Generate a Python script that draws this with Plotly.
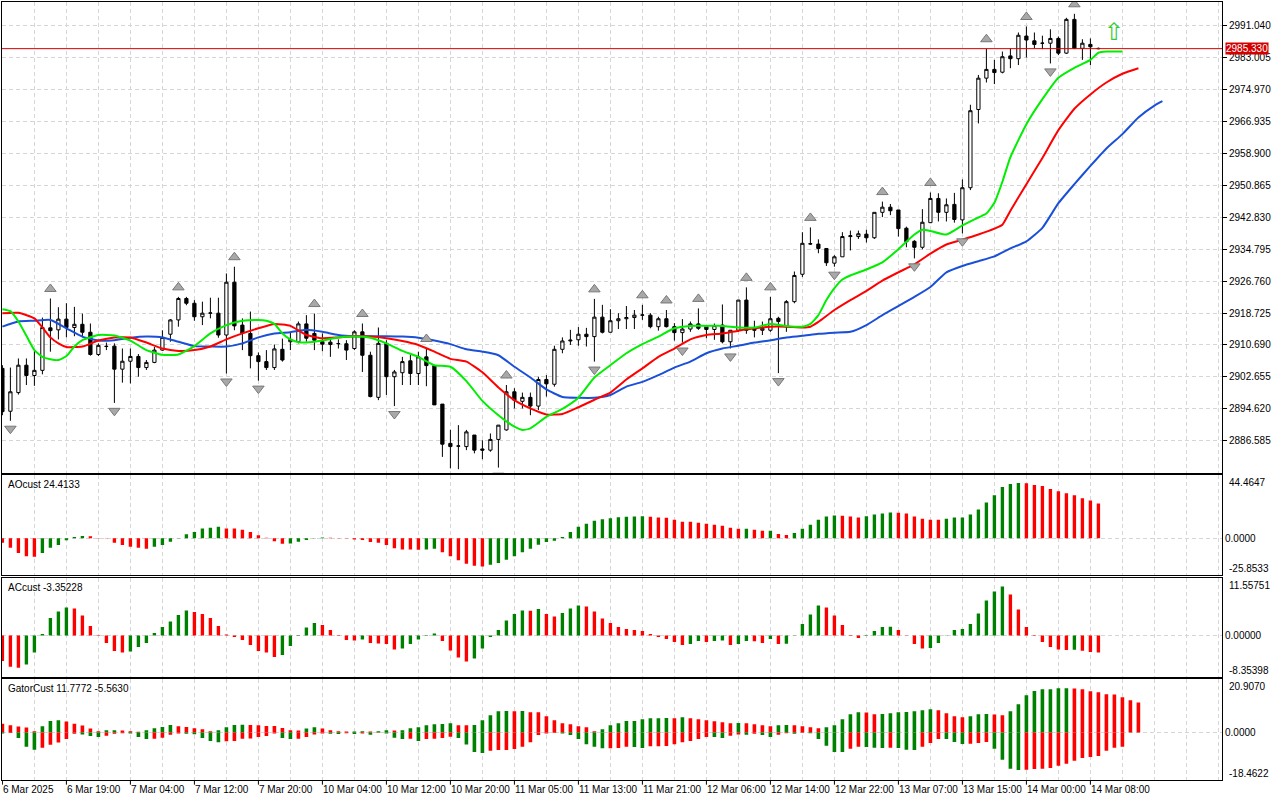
import plotly.graph_objects as go

# ---------------- data ----------------
opens = [2904.8, 2894.0, 2898.7, 2905.6, 2903.0, 2904.3, 2915.0, 2914.5, 2917.2, 2915.1,
         2915.9, 2913.9, 2908.3, 2910.3, 2910.4, 2904.6, 2906.6, 2907.8, 2905.0, 2906.3,
         2909.4, 2913.4, 2917.0, 2922.4, 2921.2, 2917.8, 2918.7, 2918.7, 2913.2, 2926.5,
         2915.7, 2913.6, 2908.0, 2906.5, 2905.0, 2909.6, 2911.5, 2911.5, 2916.0, 2913.6,
         2911.5, 2911.4, 2911.0, 2911.0, 2909.8, 2914.0, 2908.1, 2897.5, 2911.1, 2902.7,
         2903.7, 2906.7, 2903.5, 2907.7, 2905.5, 2895.8, 2885.9, 2885.2, 2885.1, 2888.0,
         2884.5, 2884.2, 2886.9, 2889.3, 2898.9, 2896.5, 2897.5, 2895.3, 2902.0, 2900.8,
         2909.6, 2911.7, 2912.0, 2913.4, 2912.8, 2917.7, 2913.9, 2916.8, 2917.3, 2917.6,
         2918.2, 2918.2, 2915.3, 2917.3, 2915.3, 2913.8, 2914.7, 2916.0, 2915.3, 2914.6,
         2915.7, 2911.5, 2914.4, 2922.0, 2914.9, 2914.4, 2914.4, 2917.4, 2915.3, 2921.6,
         2928.5, 2936.1, 2936.1, 2935.0, 2931.3, 2932.9, 2938.0, 2938.0, 2938.6, 2937.7,
         2944.1, 2945.4, 2944.7, 2940.1, 2936.8, 2935.3, 2941.5, 2947.6, 2944.1, 2946.1,
         2942.2, 2950.3, 2970.0, 2977.9, 2980.1, 2979.4, 2983.5, 2982.8, 2988.5, 2987.3,
         2986.7, 2986.7, 2987.9, 2984.2, 2992.7, 2985.4, 2986.4, 2985.4]
highs = [2905.6, 2905.0, 2907.3, 2907.3, 2909.2, 2917.6, 2922.4, 2920.2, 2921.2, 2920.3,
         2918.6, 2916.1, 2911.1, 2911.3, 2911.1, 2909.8, 2909.8, 2908.4, 2906.9, 2910.2,
         2914.4, 2917.2, 2922.8, 2922.8, 2922.0, 2921.6, 2922.6, 2922.6, 2928.7, 2930.4,
         2917.4, 2919.1, 2908.8, 2909.4, 2910.8, 2912.3, 2914.0, 2916.6, 2918.2, 2918.6,
         2913.6, 2912.1, 2912.1, 2911.9, 2914.4, 2916.1, 2909.0, 2915.1, 2911.9, 2904.4,
         2907.7, 2908.2, 2909.0, 2909.8, 2905.5, 2895.8, 2889.3, 2890.5, 2889.3, 2888.0,
         2886.7, 2888.4, 2890.5, 2900.6, 2899.8, 2898.7, 2898.7, 2902.7, 2903.1, 2910.5,
         2912.6, 2914.5, 2915.2, 2915.0, 2922.3, 2920.8, 2919.7, 2918.7, 2920.5, 2919.5,
         2920.8, 2918.7, 2917.8, 2919.5, 2916.2, 2917.2, 2916.6, 2919.9, 2915.7, 2916.1,
         2920.9, 2914.4, 2922.0, 2925.2, 2916.8, 2916.6, 2922.8, 2917.8, 2922.0, 2929.2,
         2939.1, 2940.3, 2937.3, 2935.0, 2933.3, 2939.1, 2939.5, 2939.5, 2939.7, 2944.1,
         2946.8, 2946.2, 2944.7, 2940.5, 2937.1, 2944.9, 2949.1, 2948.9, 2947.6, 2949.0,
         2952.4, 2971.2, 2978.7, 2985.3, 2982.5, 2984.6, 2985.4, 2989.4, 2990.9, 2989.4,
         2988.6, 2990.2, 2988.4, 2993.1, 2994.1, 2987.7, 2987.9, 2985.6]
lows = [2893.0, 2891.6, 2898.2, 2900.6, 2900.4, 2903.3, 2909.0, 2912.1, 2912.6, 2912.9,
        2912.6, 2908.0, 2907.9, 2909.4, 2896.1, 2901.2, 2901.0, 2902.7, 2904.4, 2906.1,
        2909.2, 2911.5, 2915.3, 2920.7, 2916.8, 2915.7, 2917.4, 2912.5, 2903.5, 2914.4,
        2909.4, 2904.8, 2901.7, 2904.4, 2904.4, 2906.5, 2909.4, 2911.1, 2911.5, 2909.4,
        2909.1, 2907.7, 2909.8, 2906.9, 2909.4, 2903.9, 2897.5, 2896.8, 2898.1, 2895.3,
        2900.6, 2900.6, 2900.6, 2900.3, 2895.6, 2882.5, 2879.6, 2879.4, 2884.2, 2883.4,
        2881.9, 2883.8, 2879.8, 2889.1, 2894.7, 2894.7, 2893.0, 2894.3, 2897.7, 2900.2,
        2908.6, 2910.7, 2910.5, 2910.3, 2906.5, 2913.6, 2913.9, 2914.7, 2914.7, 2914.7,
        2917.0, 2914.9, 2914.3, 2915.1, 2911.8, 2911.3, 2914.0, 2914.5, 2912.4, 2912.0,
        2911.1, 2909.8, 2914.0, 2913.5, 2912.6, 2913.2, 2914.0, 2903.6, 2914.0, 2921.2,
        2927.8, 2935.9, 2933.8, 2930.6, 2930.4, 2932.9, 2934.5, 2937.4, 2936.5, 2937.4,
        2942.9, 2943.4, 2938.0, 2935.3, 2932.5, 2934.8, 2941.4, 2941.8, 2941.8, 2941.5,
        2938.8, 2949.7, 2966.5, 2976.8, 2976.4, 2979.1, 2980.4, 2981.2, 2983.1, 2985.4,
        2985.2, 2981.6, 2983.7, 2984.0, 2985.2, 2982.5, 2981.2, 2985.2]
closes = [2893.9, 2898.9, 2905.6, 2903.0, 2904.3, 2915.1, 2914.3, 2917.2, 2915.1, 2915.9,
          2913.9, 2908.3, 2910.6, 2910.35, 2904.6, 2906.6, 2907.8, 2905.0, 2906.3, 2909.4,
          2912.6, 2917.0, 2922.4, 2921.2, 2917.8, 2918.7, 2918.75, 2913.2, 2926.5, 2915.5,
          2913.6, 2908.0, 2906.5, 2905.0, 2909.7, 2906.9, 2912.1, 2916.0, 2912.4, 2911.9,
          2910.9, 2910.8, 2911.05, 2909.4, 2914.0, 2908.1, 2897.7, 2911.1, 2902.7, 2903.9,
          2906.5, 2903.5, 2907.7, 2905.5, 2895.6, 2885.7, 2885.1, 2885.25, 2888.8, 2884.2,
          2884.2, 2886.9, 2890.5, 2898.9, 2896.8, 2897.5, 2895.3, 2902.0, 2900.9, 2909.6,
          2911.7, 2911.9, 2913.4, 2912.8, 2917.7, 2913.9, 2916.8, 2917.3, 2917.6, 2918.2,
          2918.25, 2915.3, 2917.3, 2915.3, 2913.8, 2914.7, 2916.0, 2914.9, 2914.6, 2915.6,
          2911.5, 2914.4, 2922.0, 2914.4, 2914.4, 2914.9, 2917.3, 2916.6, 2921.6, 2928.2,
          2936.3, 2936.2, 2935.0, 2931.4, 2932.9, 2938.0, 2938.2, 2938.7, 2937.7, 2944.1,
          2945.4, 2944.5, 2940.0, 2936.7, 2935.3, 2941.6, 2947.6, 2944.1, 2946.0, 2942.3,
          2950.3, 2969.7, 2977.9, 2980.1, 2979.3, 2983.3, 2982.8, 2988.7, 2987.5, 2986.4,
          2986.7, 2987.9, 2984.2, 2992.7, 2985.4, 2986.7, 2985.8, 2985.33]
bars = list(range(len(closes)))

# Alligator lines (bar index, price)
jaw_bars = [0, 2, 4, 6, 8, 10, 12, 14, 16, 18, 20, 22, 24, 26, 28, 30, 32, 34, 36, 38, 40,
            42, 44, 46, 48, 50, 52, 54, 56, 58, 60, 62, 64, 66, 68, 70, 72, 74, 76, 78, 80,
            82, 84, 86, 88, 90, 92, 94, 96, 98, 100, 102, 104, 106, 108, 110, 112, 114, 116,
            118, 120, 122, 124, 126, 128, 130, 132, 134, 136, 138, 140, 142, 144, 145]
jaw_vals = [2915.3, 2916.6, 2916.8, 2917.0, 2914.9, 2912.8, 2911.8, 2911.9, 2912.5, 2912.8,
            2912.6, 2911.5, 2910.4, 2910.3, 2910.3, 2911.1, 2912.6, 2913.6, 2913.9, 2914.5,
            2914.0, 2913.2, 2912.9, 2912.9, 2912.9, 2912.8, 2912.5, 2911.8, 2910.9, 2909.6,
            2909.0, 2908.1, 2905.2, 2902.5, 2899.5, 2897.6, 2897.4, 2897.4, 2898.1, 2900.2,
            2901.4, 2903.1, 2905.0, 2906.5, 2908.6, 2909.8, 2910.5, 2911.3, 2911.9, 2912.6,
            2913.0, 2913.5, 2913.8, 2914.0, 2915.7, 2918.2, 2920.5, 2922.8, 2925.3, 2929.0,
            2930.6, 2931.8, 2933.0, 2935.0, 2936.8, 2940.2, 2946.4, 2951.2, 2955.8, 2960.2,
            2963.8, 2968.0, 2971.0, 2972.1]
teeth_bars = [0, 2, 4, 5, 6, 7, 8, 10, 12, 14, 16, 18, 20, 22, 24, 26, 28, 30, 32, 34, 36,
              38, 40, 42, 44, 46, 48, 50, 52, 54, 56, 58, 60, 62, 64, 66, 68, 70, 72, 74, 76,
              78, 80, 82, 84, 86, 88, 90, 92, 94, 96, 98, 100, 101, 102, 104, 106, 108, 110,
              112, 114, 116, 118, 120, 122, 124, 125, 126, 128, 130, 132, 134, 136, 138, 140, 142]
teeth_vals = [2918.7, 2918.8, 2917.4, 2915.1, 2912.6, 2911.1, 2910.2, 2910.3, 2911.8, 2912.6,
              2912.6, 2911.3, 2909.8, 2909.2, 2909.4, 2910.3, 2912.1, 2913.6, 2914.9, 2916.0,
              2915.5, 2913.2, 2912.4, 2912.6, 2912.9, 2912.8, 2912.4, 2911.7, 2910.7, 2909.0,
              2907.2, 2906.5, 2903.8, 2900.0, 2896.8, 2894.7, 2893.2, 2893.3, 2895.0, 2896.9,
              2898.7, 2902.0, 2904.8, 2907.7, 2909.8, 2912.1, 2913.2, 2913.6, 2914.3, 2914.9,
              2915.3, 2915.3, 2915.1, 2915.3, 2916.5, 2919.5, 2922.0, 2924.3, 2926.9, 2929.0,
              2931.0, 2933.7, 2936.0, 2937.2, 2938.5, 2940.0, 2941.0, 2944.5, 2951.2, 2957.8,
              2964.8, 2970.2, 2973.8, 2976.8, 2979.0, 2980.4]
lips_bars = [0, 1, 2, 3, 4, 5, 6, 7, 8, 9, 10, 12, 14, 16, 18, 20, 22, 24, 26, 28, 30, 32,
             33, 34, 35, 36, 37, 38, 40, 42, 44, 46, 48, 50, 52, 54, 56, 58, 60, 62, 64, 65,
             66, 68, 70, 72, 74, 76, 78, 80, 82, 84, 86, 88, 90, 92, 94, 96, 98, 100, 101, 102,
             103, 104, 105, 106, 108, 110, 112, 114, 115, 116, 118, 120, 122, 123, 124, 125,
             126, 128, 130, 132, 134, 136, 137, 138, 140]
lips_vals = [2919.7, 2919.2, 2916.6, 2913.0, 2909.4, 2907.7, 2907.1, 2906.9, 2907.9, 2910.3,
             2911.9, 2913.2, 2913.1, 2911.8, 2909.4, 2908.2, 2908.3, 2910.4, 2913.6, 2915.7,
             2916.8, 2917.0, 2916.8, 2916.0, 2913.6, 2912.1, 2911.4, 2911.3, 2911.8, 2912.6,
             2912.8, 2912.5, 2911.1, 2909.2, 2907.7, 2905.6, 2905.2, 2901.6, 2896.6, 2893.0,
             2890.1, 2889.3, 2889.7, 2892.6, 2894.6, 2897.4, 2902.5, 2905.6, 2908.6, 2910.9,
             2912.8, 2914.9, 2915.5, 2915.5, 2915.5, 2915.1, 2915.1, 2916.0, 2915.5, 2915.3,
             2916.0, 2918.2, 2922.0, 2925.0, 2927.2, 2928.2, 2929.7, 2931.5, 2934.8, 2938.5,
             2939.7, 2939.4, 2938.5, 2940.8, 2942.8, 2943.8, 2946.5, 2951.8, 2958.0, 2966.3,
             2972.6, 2978.0, 2980.5, 2982.5, 2984.3, 2984.6, 2984.6]

fractal_up_bars = [6, 22, 29, 39, 45, 53, 63, 74, 80, 83, 87, 93, 96, 101, 110, 116, 123, 128, 134]
fractal_down_bars = [1, 14, 28, 32, 49, 57, 62, 74, 85, 91, 97, 104, 114, 120, 131]
signal_bars = [139]
signal_prices = [2989.5]

ao_vals = [-3.1, -6.6, -10.2, -12.6, -12.8, -10.2, -6.6, -4.7, -1.4, 0.9,
           1.6, 1.4, 0.3, -0.2, -3.1, -4.7, -5.9, -6.6, -7.3, -5.9,
           -4.7, -2.4, 0.3, 2.8, 4.5, 6.9, 7.3, 8.1, 6.9, 6.8,
           5.9, 4.5, 2.1, 0.4, -2.1, -3.8, -3.7, -2.4, -1.2, -0.2,
           0.5, 0.4, 0.2, -0.2, -0.9, -1.2, -2.6, -3.1, -4.7, -6.9,
           -7.8, -7.9, -8.0, -7.8, -7.3, -9.7, -12.6, -15.4, -17.8, -19.2,
           -19.7, -18.5, -17.3, -14.9, -12.6, -9.7, -7.3, -4.5, -2.6, -1.7,
           0.9, 4.5, 8.1, 10.2, 12.3, 13.3, 14.0, 14.7, 15.0, 15.2,
           15.4, 15.1, 14.5, 14.4, 13.0, 11.6, 11.5, 10.9, 10.2, 9.5,
           8.8, 7.3, 6.6, 6.7, 5.9, 5.2, 5.3, 3.1, 2.4, 3.8,
           6.6, 9.5, 13.0, 15.2, 15.9, 15.8, 15.2, 14.5, 15.4, 16.6,
           17.3, 18.0, 17.9, 17.3, 15.2, 13.7, 13.0, 12.9, 13.7, 14.5,
           14.6, 16.6, 20.1, 25.1, 30.1, 35.8, 37.9, 38.6, 38.5, 37.2,
           36.5, 34.4, 32.9, 31.5, 30.1, 28.0, 26.5, 24.4133]
ac_vals = [-5.1, -6.2, -6.4, -5.8, -3.4, 0.3, 3.5, 4.8, 5.6, 5.4,
           4.0, 1.9, -0.1, -1.5, -3.1, -3.4, -3.2, -2.3, -1.5, 0.5,
           1.7, 2.8, 4.1, 5.0, 4.7, 4.3, 3.5, 1.9, 0.2, -0.3,
           -0.9, -1.9, -3.1, -3.4, -4.3, -3.9, -2.1, 0.1, 1.6, 2.5,
           2.1, 1.1, -0.1, -0.9, -1.0, -0.8, -1.5, -1.6, -1.7, -2.8,
           -2.6, -1.7, -0.8, -0.1, 0.4, -1.1, -3.0, -4.4, -5.2, -4.6,
           -2.6, -0.3, 1.1, 3.0, 4.3, 5.0, 4.95, 5.3, 4.3, 3.8,
           4.5, 5.4, 6.0, 5.8, 4.8, 3.4, 2.5, 1.7, 1.3, 1.1,
           0.9, 0.3, -0.3, -0.7, -1.3, -1.9, -1.7, -1.1, -1.3, -1.1,
           -1.0, -1.9, -1.7, -1.1, -1.15, -1.5, -0.7, -1.7, -1.65, -0.05,
           2.3, 4.2, 6.0, 5.6, 4.0, 2.1, -0.1, -0.5, -0.1, 0.9,
           1.7, 1.75, 1.1, -0.05, -1.7, -2.6, -2.5, -1.5, -0.05, 1.1,
           1.3, 2.3, 4.4, 7.0, 8.8, 9.8, 8.2, 5.2, 1.7, -0.1,
           -1.3, -2.3, -2.8, -2.9, -2.85, -3.05, -3.3, -3.35228]
gator_up = [3.5, 2.9, 2.4, 2.0, 0.5, 2.5, 4.5, 4.8, 4.3, 3.5,
            2.75, 1.6, 0.5, 0.9, 0.95, 0.8, 0.5, 0.3, 0.9, 1.7,
            2.2, 3.0, 2.5, 2.2, 1.7, 1.3, 0.5, 0.9, 2.1, 3.0,
            3.05, 2.95, 2.9, 2.6, 2.55, 1.8, 0.9, 0.85, 1.6, 2.1,
            1.6, 0.9, 0.5, 0.4, 0.45, 0.5, 0.4, 0.55, 0.9, 0.85,
            0.9, 1.7, 2.1, 2.9, 3.3, 3.35, 3.7, 2.9, 2.85, 2.95,
            4.8, 6.8, 8.4, 8.45, 8.35, 8.5, 8.0, 7.95, 6.4, 4.8,
            3.7, 3.3, 2.5, 2.1, 0.5, 1.3, 2.9, 3.7, 4.5, 4.55,
            5.2, 5.6, 5.65, 5.7, 5.6, 6.0, 5.6, 5.2, 4.8, 4.45,
            4.1, 3.7, 3.75, 3.7, 3.3, 2.9, 2.5, 2.9, 2.95, 2.85,
            2.5, 2.1, 1.7, 2.1, 2.9, 5.2, 7.2, 8.0, 7.9, 7.2,
            7.25, 7.6, 8.0, 8.05, 8.4, 8.8, 9.2, 8.8, 7.6, 6.4,
            6.0, 6.4, 7.2, 7.25, 7.15, 6.8, 8.4, 11.1, 14.7, 16.3,
            17.0, 17.05, 17.4, 17.45, 17.35, 17.0, 16.2, 15.9, 15.1, 15.0,
            13.9, 12.7, 11.7772]
gator_down = [-0.4, -0.2, -2.1, -5.6, -6.8, -6.0, -4.8, -3.9, -2.5, -0.5,
              -0.8, -1.4, -1.7, -1.3, -0.5, -0.3, -0.35, -1.7, -2.5, -2.45,
              -2.0, -0.9, -0.4, -0.45, -0.65, -2.1, -3.3, -3.8, -3.4, -3.3,
              -2.4, -2.35, -1.7, -1.4, -0.4, -2.1, -2.5, -2.45, -1.7, -0.8,
              -0.4, -0.45, -0.55, -0.3, -0.55, -0.4, -0.9, -0.1, -0.4, -2.0,
              -2.5, -2.45, -3.3, -2.5, -2.45, -2.1, -1.6, -2.1, -4.7, -7.6,
              -8.0, -7.2, -6.9, -6.85, -6.5, -5.6, -3.8, -1.0, -0.4, -0.15,
              -0.4, -1.0, -2.5, -4.6, -5.6, -6.2, -6.15, -6.1, -5.6, -5.65,
              -6.1, -5.4, -5.35, -5.3, -4.6, -3.8, -3.3, -2.5, -1.7, -1.75,
              -2.1, -1.3, -0.8, -0.85, -0.45, -1.0, -1.7, -0.9, -0.3, -0.5,
              -0.1, -0.25, -2.5, -5.2, -7.6, -7.65, -6.4, -5.6, -5.65, -6.0,
              -6.05, -6.0, -6.05, -6.8, -6.85, -5.6, -4.1, -2.5, -2.55, -3.7,
              -4.5, -4.45, -4.1, -3.7, -6.4, -10.7, -14.2, -14.7, -14.65, -14.3,
              -14.25, -13.9, -13.1, -12.3, -11.1, -10.0, -9.6, -9.2, -7.2, -6.0,
              -5.563]

price_ticks = [2886.585, 2894.620, 2902.655, 2910.690, 2918.725, 2926.760, 2934.795,
               2942.830, 2950.865, 2958.900, 2966.935, 2974.970, 2983.005, 2991.040]
time_label_bars = [0, 8, 16, 24, 32, 40, 48, 56, 64, 72, 80, 88, 96, 104, 112, 120, 128, 136]
time_labels = ['6 Mar 2025', '6 Mar 19:00', '7 Mar 04:00', '7 Mar 12:00', '7 Mar 20:00',
               '10 Mar 04:00', '10 Mar 12:00', '10 Mar 20:00', '11 Mar 05:00', '11 Mar 13:00',
               '11 Mar 21:00', '12 Mar 06:00', '12 Mar 14:00', '12 Mar 22:00', '13 Mar 07:00',
               '13 Mar 15:00', '14 Mar 00:00', '14 Mar 08:00']
ao_limits = [-25.8533, 44.4647]
ac_limits = [-8.35398, 11.55751]
gator_limits = [-18.4622, 20.9070]

# ---------------- styling ----------------
GREEN = '#008000'
RED = '#ff0000'
GRID = '#d6d6d6'
FONT = 'Liberation Sans'


def change_colors(vals, first, use_abs=False):
    out = [first]
    for a, b in zip(vals[:-1], vals[1:]):
        if use_abs:
            out.append(GREEN if abs(b) > abs(a) else RED)
        else:
            out.append(GREEN if b > a else RED)
    return out


fig = go.Figure()

fig.add_trace(go.Candlestick(
    x=bars, open=opens, high=highs, low=lows, close=closes,
    increasing=dict(line=dict(color='black', width=1), fillcolor='white'),
    decreasing=dict(line=dict(color='black', width=1), fillcolor='black'),
    whiskerwidth=0, xaxis='x', yaxis='y', hoverinfo='skip'))

for bx, vy, col in [(jaw_bars, jaw_vals, '#1a50d8'), (teeth_bars, teeth_vals, '#ff0000'),
                    (lips_bars, lips_vals, '#00ee00')]:
    fig.add_trace(go.Scatter(x=bx, y=vy, mode='lines',
                             line=dict(color=col, width=2, shape='spline', smoothing=0.5),
                             xaxis='x', yaxis='y', hoverinfo='skip'))

fig.add_trace(go.Scatter(
    x=fractal_up_bars, y=[highs[i] + 2.4 for i in fractal_up_bars], mode='markers',
    marker=dict(symbol='triangle-up', size=10, color='#a8a8a8',
                line=dict(color='#787878', width=1)),
    xaxis='x', yaxis='y', hoverinfo='skip'))
fig.add_trace(go.Scatter(
    x=fractal_down_bars, y=[lows[i] - 2.0 for i in fractal_down_bars], mode='markers',
    marker=dict(symbol='triangle-down', size=10, color='#a8a8a8',
                line=dict(color='#787878', width=1)),
    xaxis='x', yaxis='y', hoverinfo='skip'))

fig.add_trace(go.Bar(x=bars, y=ao_vals, marker=dict(color=change_colors(ao_vals, RED), line_width=0),
                     width=0.42, xaxis='x2', yaxis='y2', hoverinfo='skip'))
fig.add_trace(go.Bar(x=bars, y=ac_vals, marker=dict(color=change_colors(ac_vals, RED), line_width=0),
                     width=0.42, xaxis='x3', yaxis='y3', hoverinfo='skip'))
fig.add_trace(go.Bar(x=list(range(len(gator_up))), y=gator_up,
                     marker=dict(color=change_colors(gator_up, RED), line_width=0),
                     width=0.45, xaxis='x4', yaxis='y4', hoverinfo='skip'))
fig.add_trace(go.Bar(x=list(range(len(gator_down))), y=gator_down,
                     marker=dict(color=change_colors(gator_down, GREEN, use_abs=True), line_width=0),
                     width=0.45, xaxis='x4', yaxis='y4', hoverinfo='skip'))

# panel geometry (pixels from top of a 778px plot area starting at y=2)
PLOT_TOP, PLOT_H = 2, 778


def dom(top_px, bottom_px):
    return [max(0, (PLOT_TOP + PLOT_H - bottom_px) / PLOT_H), min(1, (PLOT_TOP + PLOT_H - top_px) / PLOT_H)]


main_dom = dom(2, 472.7)
ao_dom = dom(474.7, 575.3)
ac_dom = dom(577.8, 677.4)
gator_dom = dom(679.4, 779.5)

grid_bars = list(range(0, 153, 4))
label_map = dict(zip(time_label_bars, time_labels))
xbase = dict(range=[-0.05, 152.45], tickvals=grid_bars, showgrid=True, gridcolor=GRID,
             griddash='4px,3px', gridwidth=1, showline=True, mirror=True, linecolor='black',
             linewidth=1, zeroline=False, fixedrange=True)
ybase = dict(side='right', showline=True, mirror=True, linecolor='black', linewidth=1,
             zeroline=False, fixedrange=True, gridcolor=GRID, griddash='4px,3px', gridwidth=1,
             tickfont=dict(family=FONT, size=10, color='black'))

fig.update_layout(
    width=1280, height=800,
    margin=dict(l=2, r=58, t=2, b=20),
    paper_bgcolor='white', plot_bgcolor='white',
    showlegend=False, barmode='overlay', boxgap=0.42,
    font=dict(family=FONT, size=10, color='black'),
    xaxis=dict(**xbase, anchor='y', showticklabels=False, ticks='',
               rangeslider=dict(visible=False)),
    xaxis2=dict(**xbase, anchor='y2', showticklabels=False, ticks='', matches='x'),
    xaxis3=dict(**xbase, anchor='y3', showticklabels=False, ticks='', matches='x'),
    xaxis4=dict(**xbase, anchor='y4', matches='x',
                ticktext=[label_map.get(b, '') for b in grid_bars],
                ticks='', ticklabelposition='outside right', tickangle=0,
                tickfont=dict(family=FONT, size=10, color='black')),
    yaxis=dict(**ybase, domain=main_dom, range=[2878.52, 2997.08], tickvals=price_ticks,
               ticktext=['%.3f' % v for v in price_ticks], ticks='outside', ticklen=4,
               tickcolor='black', showgrid=True),
    yaxis2=dict(**ybase, domain=ao_dom, range=ao_limits, tickvals=[0], ticktext=['0.0000'],
                ticks='', showgrid=True),
    yaxis3=dict(**ybase, domain=ac_dom, range=ac_limits, tickvals=[0], ticktext=['0.00000'],
                ticks='', showgrid=True),
    yaxis4=dict(**ybase, domain=gator_dom, range=gator_limits, tickvals=[0], ticktext=['0.0000'],
                ticks='', showgrid=True),
)

# small tick marks under the time labels
for b in time_label_bars:
    fig.add_shape(type='line', xref='x4', yref='paper', x0=b, x1=b, y0=0, y1=-0.006,
                  line=dict(color='black', width=1))

last_price = closes[-1]
fig.add_shape(type='line', xref='paper', yref='y', x0=0, x1=1, y0=last_price, y1=last_price,
              line=dict(color='#d40000', width=1))

ann = []
ann.append(dict(xref='paper', yref='y', x=1, y=last_price, xanchor='left', yanchor='middle',
                xshift=3, text='%.3f' % last_price, showarrow=False, bgcolor='#d40000',
                borderpad=0, font=dict(family=FONT, size=10, color='white')))
sub_titles = [('AOcust %.4f' % ao_vals[-1], ao_dom, ao_limits, '%.4f'),
              ('ACcust %.5f' % ac_vals[-1], ac_dom, ac_limits, '%.5f'),
              ('GatorCust %.4f %.4f' % (gator_up[-1], gator_down[-1]), gator_dom, gator_limits, '%.4f')]
for title, d, lim, fmt in sub_titles:
    ann.append(dict(xref='paper', yref='paper', x=0, y=d[1], xanchor='left', yanchor='top',
                    xshift=4, yshift=-2, text=title, showarrow=False,
                    font=dict(family=FONT, size=10, color='black')))
    ann.append(dict(xref='paper', yref='paper', x=1, y=d[1], xanchor='left', yanchor='top',
                    xshift=5, yshift=0, text=fmt % lim[1], showarrow=False,
                    font=dict(family=FONT, size=10, color='black')))
    ann.append(dict(xref='paper', yref='paper', x=1, y=d[0], xanchor='left', yanchor='bottom',
                    xshift=5, yshift=-1, text=fmt % lim[0], showarrow=False,
                    font=dict(family=FONT, size=10, color='black')))
for sb, sp in zip(signal_bars, signal_prices):
    ann.append(dict(xref='x', yref='y', x=sb, y=sp, text='\u21e7', showarrow=False,
                    font=dict(family='DejaVu Sans', size=24, color='#33cc33')))
fig.update_layout(annotations=ann)

fig.write_html('out.html', config={'displayModeBar': False, 'staticPlot': True})

# remove the browser's default page margin so the figure sits at the window origin
with open('out.html', 'r', encoding='utf-8') as fh:
    page = fh.read()
page = page.replace('<body>', '<body style="margin:0;padding:0;overflow:hidden">', 1)
with open('out.html', 'w', encoding='utf-8') as fh:
    fh.write(page)
